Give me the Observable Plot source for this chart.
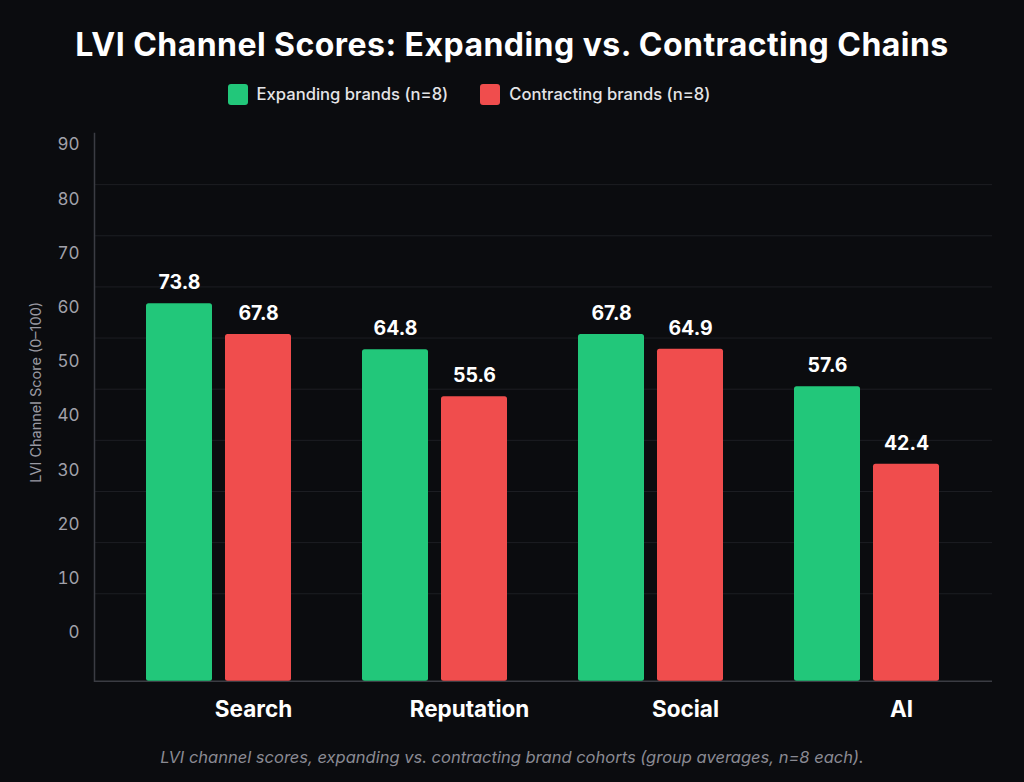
<!DOCTYPE html>
<html>
<head>
<meta charset="utf-8">
<script src="https://cdn.jsdelivr.net/npm/d3@7"></script>
<script src="https://cdn.jsdelivr.net/npm/@observablehq/plot@0.6"></script>
<style>
  html, body { margin: 0; padding: 0; background: #0b0c0f; }
  body { width: 1024px; height: 782px; position: relative; overflow: hidden; font-family: Inter, "Noto Sans", sans-serif; }
  #title { position: absolute; left: 0; width: 1024px; top: 25px; text-align: center; color: #ffffff; font-size: 32px; font-weight: 700; line-height: 40px; letter-spacing: 0.45px; }
  #legend { position: absolute; left: 0; width: 938px; padding-right: 86px; top: 82px; height: 24px; display: flex; justify-content: center; align-items: center; gap: 32px; }
  .item { display: flex; align-items: center; gap: 9px; color: #e4e4e7; font-size: 16.6px; font-weight: 500; }
  .sw { width: 20px; height: 21px; border-radius: 3px; }
  #chart { position: absolute; left: 0; top: 115px; width: 1024px; height: 610px; }
  #chart svg { position: absolute; left: 0; top: 0; }
  #caption { position: absolute; left: 0; width: 1024px; top: 746px; text-align: center; color: #8a8a93; font-size: 16.5px; font-style: italic; line-height: 22px; }
</style>
</head>
<body>
<div id="title">LVI Channel Scores: Expanding vs. Contracting Chains</div>
<div id="legend"></div>
<div id="chart"></div>
<div id="caption">LVI channel scores, expanding vs. contracting brand cohorts (group averages, n=8 each).</div>
<script>
// ---- data ----
const channels = ["Search", "Reputation", "Social", "AI"];
const series = ["Expanding brands (n=8)", "Contracting brands (n=8)"];
const expanding = [73.8, 64.8, 67.8, 57.6];
const contracting = [67.8, 55.6, 64.9, 42.4];
const yTickLabels = [0, 10, 20, 30, 40, 50, 60, 70, 80, 90];
const yTitle = "LVI Channel Score (0–100)";
const colors = ["#22c77a", "#f04d4d"];

// scale extents
const yMax = 107.1;                 // value scale of the bars
const labelDomain = [-8.93, 92.09]; // scale on which the printed tick labels sit
const gridValues = d3.range(1, 10).map(k => yMax - 10 * k);

const rows = [];
channels.forEach((c, i) => {
  rows.push({channel: c, series: series[0], value: expanding[i]});
  rows.push({channel: c, series: series[1], value: contracting[i]});
});

// legend
const legend = document.getElementById("legend");
series.forEach((s, i) => {
  const it = document.createElement("div");
  it.className = "item";
  it.innerHTML = `<span class="sw" style="background:${colors[i]}"></span><span>${s}</span>`;
  legend.appendChild(it);
});

const dims = {width: 1024, height: 610, marginTop: 18, marginBottom: 44.3, marginLeft: 94, marginRight: 32};
const baseStyle = {fontFamily: "Inter, 'Noto Sans', sans-serif", background: "transparent", overflow: "visible"};

// layer A: grid and axis lines (value scale)
const gridLayer = Plot.plot({
  ...dims,
  style: baseStyle,
  y: {domain: [0, yMax], axis: null},
  marks: [
    Plot.ruleY(gridValues, {stroke: "#1d1e23", strokeWidth: 1}),
    Plot.ruleY([0], {stroke: "#3b3c43", strokeWidth: 1.5}),
    Plot.frame({anchor: "left", stroke: "#3b3c43", strokeWidth: 1.5})
  ]
});

// layer B: printed tick labels and axis title
const labelLayer = Plot.plot({
  ...dims,
  style: baseStyle,
  y: {domain: labelDomain, axis: null},
  marks: [
    Plot.axisY(yTickLabels, {tickSize: 0, tickPadding: 15, fontSize: 17, color: "#a1a1aa", label: null}),
    Plot.text([yTitle], {frameAnchor: "left", textAnchor: "middle", rotate: -90, dx: -58, dy: -15, fontSize: 14.5, fill: "#9a9aa2"})
  ]
});

// layer C: grouped bars
const barLayer = Plot.plot({
  ...dims,
  style: baseStyle,
  fx: {domain: channels, paddingInner: 0.3255, paddingOuter: 0.235, label: null},
  x: {domain: series, paddingInner: 0.16, paddingOuter: 0, axis: null},
  y: {domain: [0, yMax], axis: null},
  color: {domain: series, range: colors},
  marks: [
    Plot.barY(rows, {fx: "channel", x: "series", y: "value", fill: "series", rx: 2.5}),
    Plot.text(rows, {fx: "channel", x: "series", y: "value", text: d => d.value.toFixed(1), dy: -21, fill: "#ffffff", fontSize: 19.5, fontWeight: 700}),
    Plot.axisFx({anchor: "bottom", tickSize: 0, tickPadding: 20, fontSize: 22.5, fontWeight: 700, color: "#ffffff", label: null, dx: 34})
  ]
});

const chart = document.getElementById("chart");
chart.appendChild(gridLayer);
chart.appendChild(labelLayer);
chart.appendChild(barLayer);
</script>
</body>
</html>
